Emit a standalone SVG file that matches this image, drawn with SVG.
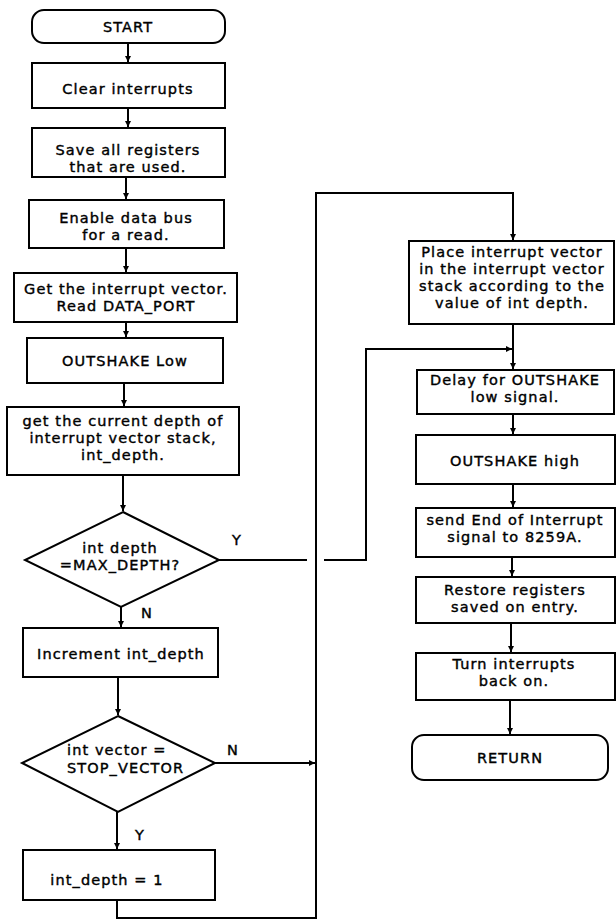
<svg xmlns="http://www.w3.org/2000/svg" width="616" height="921" viewBox="0 0 616 921">
  <style>
    .box { fill: #fff; stroke: #000; stroke-width: 2; }
    .wire { fill: none; stroke: #000; stroke-width: 2; }
    text { font-family: "DejaVu Sans", "Liberation Sans", sans-serif; font-size: 14.5px; letter-spacing: 1.1px; fill: #000; stroke: #000; stroke-width: 0.4; text-anchor: middle; }
    .lbl { text-anchor: start; }
  </style>
  <defs>
    <marker id="arrow" markerUnits="userSpaceOnUse" markerWidth="7" markerHeight="7" refX="6" refY="3.5" orient="auto">
      <path d="M0,0.5 L6,3.5 L0,6.5 z" fill="#000"/>
    </marker>
  </defs>
  <rect width="616" height="921" fill="#fff"/>

  <!-- connectors -->
  <g id="connectors">
    <path class="wire" d="M128,43 V62" marker-end="url(#arrow)"/>
    <path class="wire" d="M128,108 V127" marker-end="url(#arrow)"/>
    <path class="wire" d="M126,177 V199" marker-end="url(#arrow)"/>
    <path class="wire" d="M126,248 V272" marker-end="url(#arrow)"/>
    <path class="wire" d="M126,322 V337" marker-end="url(#arrow)"/>
    <path class="wire" d="M124,383 V406" marker-end="url(#arrow)"/>
    <path class="wire" d="M123,475 V511" marker-end="url(#arrow)"/>
    <path class="wire" d="M121,607 V627" marker-end="url(#arrow)"/>
    <path class="wire" d="M118,677 V715" marker-end="url(#arrow)"/>
    <path class="wire" d="M117,812 V849" marker-end="url(#arrow)"/>
    <!-- loop back from int_depth = 1 to the vector store -->
    <path class="wire" d="M117,900 V918 H316 V193 H513 V240" marker-end="url(#arrow)"/>
    <!-- N branch of STOP_VECTOR test -->
    <path class="wire" d="M215,763 H315" marker-end="url(#arrow)"/>
    <!-- Y branch of MAX_DEPTH test, hopping over the loop line -->
    <path class="wire" d="M219,560 H307"/>
    <path class="wire" d="M324,560 H366 V349 H512" marker-end="url(#arrow)"/>
    <path class="wire" d="M513,324 V369" marker-end="url(#arrow)"/>
    <path class="wire" d="M513,414 V434" marker-end="url(#arrow)"/>
    <path class="wire" d="M513,484 V507" marker-end="url(#arrow)"/>
    <path class="wire" d="M512,557 V576" marker-end="url(#arrow)"/>
    <path class="wire" d="M511,623 V652" marker-end="url(#arrow)"/>
    <path class="wire" d="M510,700 V734" marker-end="url(#arrow)"/>
  </g>

  <!-- left column -->
  <g id="start">
    <rect class="box" x="32" y="10" width="193" height="33" rx="12"/>
    <text x="128" y="32">START</text>
  </g>
  <g id="clear-interrupts">
    <rect class="box" x="32" y="63" width="193" height="45"/>
    <text x="128" y="94">Clear interrupts</text>
  </g>
  <g id="save-registers">
    <rect class="box" x="32" y="128" width="193" height="49"/>
    <text x="128" y="155">Save all registers</text>
    <text x="128" y="172">that are used.</text>
  </g>
  <g id="enable-bus">
    <rect class="box" x="29" y="200" width="195" height="48"/>
    <text x="126" y="223">Enable data bus</text>
    <text x="126" y="240">for a read.</text>
  </g>
  <g id="get-vector">
    <rect class="box" x="14" y="273" width="223" height="49"/>
    <text x="126" y="294">Get the interrupt vector.</text>
    <text x="126" y="311">Read DATA_PORT</text>
  </g>
  <g id="outshake-low">
    <rect class="box" x="27" y="338" width="196" height="45"/>
    <text x="125" y="366">OUTSHAKE Low</text>
  </g>
  <g id="get-depth">
    <rect class="box" x="7" y="407" width="232" height="68"/>
    <text x="123" y="426">get the current depth of</text>
    <text x="123" y="443">interrupt vector stack,</text>
    <text x="123" y="460">int_depth.</text>
  </g>
  <g id="max-depth-test">
    <path class="box" d="M123,512 L219,560 L121,607 L25,560 Z"/>
    <text x="120" y="553">int depth</text>
    <text x="120" y="570">=MAX_DEPTH?</text>
    <text x="237" y="545">Y</text>
    <text x="147" y="618">N</text>
  </g>
  <g id="increment-depth">
    <rect class="box" x="23" y="628" width="195" height="49"/>
    <text x="121" y="659">Increment int_depth</text>
  </g>
  <g id="stop-vector-test">
    <path class="box" d="M118,716 L215,763 L118,812 L22,763 Z"/>
    <text class="lbl" x="67" y="755">int vector =</text>
    <text class="lbl" x="67" y="773">STOP_VECTOR</text>
    <text x="233" y="755">N</text>
    <text x="140" y="840">Y</text>
  </g>
  <g id="reset-depth">
    <rect class="box" x="23" y="850" width="192" height="50"/>
    <text x="107" y="885">int_depth = 1</text>
  </g>

  <!-- right column -->
  <g id="place-vector">
    <rect class="box" x="409" y="241" width="205" height="83"/>
    <text x="512" y="257">Place interrupt vector</text>
    <text x="512" y="274">in the interrupt vector</text>
    <text x="512" y="291">stack according to the</text>
    <text x="512" y="308">value of int depth.</text>
  </g>
  <g id="delay-low">
    <rect class="box" x="417" y="370" width="197" height="44"/>
    <text x="515" y="385">Delay for OUTSHAKE</text>
    <text x="515" y="402">low signal.</text>
  </g>
  <g id="outshake-high">
    <rect class="box" x="416" y="435" width="199" height="49"/>
    <text x="515" y="466">OUTSHAKE high</text>
  </g>
  <g id="send-eoi">
    <rect class="box" x="416" y="508" width="199" height="49"/>
    <text x="515" y="525">send End of Interrupt</text>
    <text x="515" y="542">signal to 8259A.</text>
  </g>
  <g id="restore-registers">
    <rect class="box" x="416" y="577" width="199" height="46"/>
    <text x="515" y="595">Restore registers</text>
    <text x="515" y="612">saved on entry.</text>
  </g>
  <g id="interrupts-on">
    <rect class="box" x="416" y="653" width="199" height="47"/>
    <text x="514" y="669">Turn interrupts</text>
    <text x="514" y="686">back on.</text>
  </g>
  <g id="return">
    <rect class="box" x="412" y="735" width="196" height="45" rx="12"/>
    <text x="510" y="763">RETURN</text>
  </g>
</svg>
